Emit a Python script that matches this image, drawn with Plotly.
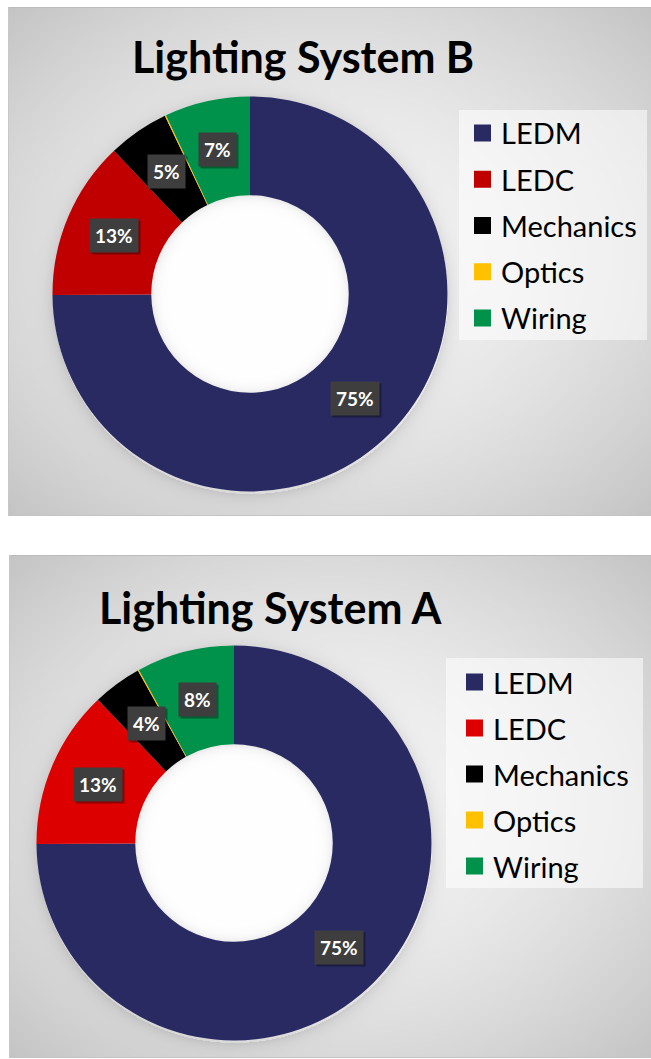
import base64
import struct
import zlib

import numpy as np
import plotly.graph_objects as go

W, H = 651, 1059

# ---- data -------------------------------------------------------------
categories = ["LEDM", "LEDC", "Mechanics", "Optics", "Wiring"]
values_b = [75, 13, 5, 0.1, 7]
values_a = [75, 13, 4, 0.1, 8]
colors_b = ["#2A2A63", "#C00000", "#000000", "#FFC000", "#00914A"]
colors_a = ["#2A2A63", "#DD0000", "#000000", "#FFC000", "#00914A"]
titles = ["Lighting System B", "Lighting System A"]

# ---- layout of the two chart panels (pixels, top-left origin) ----------
HOLE = 0.5
panels = [
    dict(values=values_b, colors=colors_b, title=titles[0],
         top=7, bottom=515, left=8, right=651,
         cx=250, cy=294, r=197.5, title_x=303, title_y=57,
         leg_box=(459, 110, 647, 340), leg_y0=133, leg_step=46.25,
         sq_x=474, text_x=499),
    dict(values=values_a, colors=colors_a, title=titles[1],
         top=555, bottom=1057, left=9, right=651,
         cx=234, cy=843, r=197.5, title_x=270, title_y=607,
         leg_box=(446, 658, 643, 888), leg_y0=682, leg_step=46.0,
         sq_x=466, text_x=491),
]


def px_x(x):
    return x / W


def px_y(y):
    return 1 - y / H


# ---- background: grey radial panels with soft shadow round the donut ---
yy, xx = np.mgrid[0:H, 0:W].astype(float)
img = np.full((H, W), 255.0)
for p in panels:
    inside = (yy >= p["top"]) & (yy <= p["bottom"]) & (xx >= p["left"])
    pcx = (p["left"] + p["right"]) / 2
    pcy = (p["top"] + p["bottom"]) / 2
    hw = (p["right"] - p["left"]) / 2
    hh = (p["bottom"] - p["top"]) / 2
    d = np.sqrt(((xx - pcx) / hw) ** 2 + ((yy - pcy) / hh) ** 2) / np.sqrt(2)
    grad = 246 - 50 * np.clip(d, 0, 1) ** 1.6
    rr = np.sqrt((xx - p["cx"]) ** 2 + (yy - p["cy"] - 2) ** 2)
    shadow = np.where(rr > p["r"], 22 * np.exp(-(rr - p["r"]) / 7), 0)
    grad = grad - shadow
    rin = np.sqrt((xx - p["cx"]) ** 2 + (yy - p["cy"]) ** 2)
    rh = p["r"] * HOLE
    hole_val = 255 - 20 * np.exp(-(rh - rin) / 5)
    grad = np.where(rin < rh, hole_val, grad)
    img = np.where(inside, grad, img)
    # thin panel border
    img[p["top"], p["left"]:] = 188
    img[p["bottom"], p["left"]:] = 196
    img[p["top"]:p["bottom"] + 1, p["left"]] = 200

img = np.clip(img, 0, 255).astype(np.uint8)


def png_bytes(a):
    raw = b"".join(b"\x00" + row.tobytes() for row in a)

    def chunk(tag, data):
        return (struct.pack(">I", len(data)) + tag + data
                + struct.pack(">I", zlib.crc32(tag + data) & 0xFFFFFFFF))

    return (b"\x89PNG\r\n\x1a\n"
            + chunk(b"IHDR", struct.pack(">IIBBBBB", a.shape[1], a.shape[0], 8, 0, 0, 0, 0))
            + chunk(b"IDAT", zlib.compress(raw, 9))
            + chunk(b"IEND", b""))


bg_uri = "data:image/png;base64," + base64.b64encode(png_bytes(img)).decode()

# ---- figure -----------------------------------------------------------
fig = go.Figure()
annotations = []
shapes = []

for p in panels:
    cx, cy, r = p["cx"], p["cy"], p["r"]
    fig.add_trace(go.Pie(
        labels=categories,
        values=p["values"],
        marker=dict(colors=p["colors"], line=dict(width=0)),
        hole=HOLE,
        sort=False,
        direction="clockwise",
        rotation=0,
        textinfo="none",
        hoverinfo="label+percent",
        showlegend=False,
        domain=dict(x=[px_x(cx - r), px_x(cx + r)],
                    y=[px_y(cy + r), px_y(cy - r)]),
    ))

    # percentage labels at the middle of each ring segment
    total = sum(p["values"])
    rmid = r * (1 + HOLE) / 2
    cum = 0.0
    for v in p["values"]:
        mid = (cum + v / 2) / total
        cum += v
        if v < 1:
            continue
        ang = np.deg2rad(90 - 360 * mid)
        lx = cx + rmid * np.cos(ang)
        ly = cy - rmid * np.sin(ang)
        txt = f"{v:.0f}%"
        common = dict(x=px_x(lx), y=px_y(ly), xref="paper", yref="paper",
                      xanchor="center", yanchor="middle", text=txt,
                      showarrow=False, borderpad=5)
        # drop shadow behind the label box
        annotations.append(dict(
            common, xshift=2, yshift=-2,
            font=dict(family="Lato", size=19, color="rgba(0,0,0,0)", weight="bold"),
            bgcolor="rgba(0,0,0,0.35)",
        ))
        annotations.append(dict(
            common,
            font=dict(family="Lato", size=19, color="white", weight="bold"),
            bgcolor="#3E3E3E",
        ))

    # title
    annotations.append(dict(
        x=px_x(p["title_x"]), y=px_y(p["title_y"]), xref="paper", yref="paper",
        xanchor="center", yanchor="middle",
        text=p["title"], showarrow=False,
        font=dict(family="Lato", size=43, color="black", weight="bold"),
    ))

    # legend panel
    x0, y0, x1, y1 = p["leg_box"]
    shapes.append(dict(type="rect", xref="paper", yref="paper",
                       x0=px_x(x0), x1=px_x(x1), y0=px_y(y1), y1=px_y(y0),
                       fillcolor="rgba(255,255,255,0.55)", line=dict(width=0),
                       layer="below"))
    for i, (name, col) in enumerate(zip(categories, p["colors"])):
        iy = p["leg_y0"] + i * p["leg_step"]
        shapes.append(dict(type="rect", xref="paper", yref="paper",
                           x0=px_x(p["sq_x"]), x1=px_x(p["sq_x"] + 17),
                           y0=px_y(iy + 8.5), y1=px_y(iy - 8.5),
                           fillcolor=col, line=dict(width=0)))
        annotations.append(dict(
            x=px_x(p["text_x"]), y=px_y(iy), xref="paper", yref="paper",
            xanchor="left", yanchor="middle", text=name, showarrow=False,
            font=dict(family="Lato", size=29, color="black"),
        ))

fig.update_layout(
    width=W, height=H,
    margin=dict(l=0, r=0, t=0, b=0),
    paper_bgcolor="white",
    plot_bgcolor="white",
    images=[dict(source=bg_uri, xref="paper", yref="paper", x=0, y=1,
                 sizex=1, sizey=1, xanchor="left", yanchor="top",
                 sizing="stretch", layer="below")],
    annotations=annotations,
    shapes=shapes,
)

fig.write_html("out.html")
